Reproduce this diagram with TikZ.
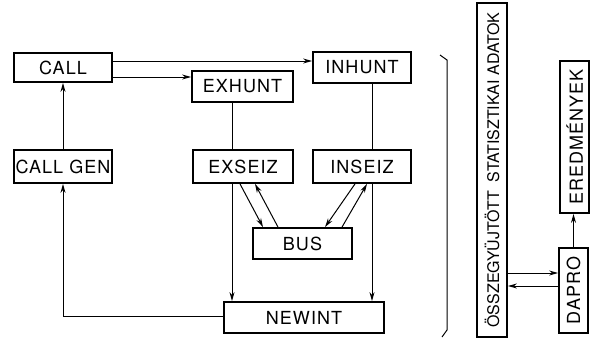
\documentclass[tikz,border=0pt]{standalone}
\usepackage{fontspec}
\setmainfont[LetterSpace=6]{TeX Gyre Heros}
\newfontfamily\statfont{TeX Gyre Heros}
\usepackage{graphicx}
\usetikzlibrary{arrows.meta,positioning,calc}
\tikzset{
  blk/.style={draw,line width=1.8pt,inner sep=0pt,font=\fontsize{18}{20}\selectfont},
  arr/.style={line width=1pt,-{Stealth[length=9pt,width=5pt]}},
  ln/.style={line width=1pt}
}

\begin{document}
\begin{tikzpicture}[x=1pt,y=-1pt]
  \useasboundingbox (0,0) rectangle (604,340);
  % left part: call handling
  \node[blk,minimum width=98pt,minimum height=29pt] (call) at (63,67.5) {CALL};
  \node[blk,minimum width=98pt,minimum height=33pt] (callgen) at (63,166.5) {CALL GEN};
  \node[blk,minimum width=101pt,minimum height=31pt] (exhunt) at (242.5,86.5) {EXHUNT};
  \node[blk,minimum width=98pt,minimum height=31pt] (inhunt) at (362,67.5) {INHUNT};
  \node[blk,minimum width=100pt,minimum height=33pt] (exseiz) at (243,166.5) {EXSEIZ};
  \node[blk,minimum width=98pt,minimum height=33pt] (inseiz) at (362,166.5) {INSEIZ};
  \node[blk,minimum width=99pt,minimum height=31pt] (bus) at (302.5,243.5) {BUS};
  \node[blk,minimum width=160pt,minimum height=31pt] (newint) at (304,317.5) {NEWINT};
  % right part: statistics
  \node[blk,minimum width=30pt,minimum height=334pt] (stat) at (492,170)
     {\rotatebox{90}{\statfont\fontsize{16}{18}\selectfont ÖSSZEGYÜJTÖTT\ \ STATISZTIKAI ADATOK}};
  \node[blk,minimum width=29pt,minimum height=152pt] (ered) at (574.5,137) {\rotatebox{90}{EREDMÉNYEK}};
  \node[blk,minimum width=29pt,minimum height=85pt] (dapro) at (573.5,290.5) {\rotatebox{90}{DAPRO}};

  \draw[arr] ([yshift=6.5pt]call.east) -- ([yshift=6.5pt]inhunt.west);
  \draw[arr] ([yshift=-9.5pt]call.east) -- ([yshift=-9.5pt]call.east -| exhunt.west);
  \draw[ln] ([xshift=-10.5pt]exhunt.south) -- ([xshift=-10.5pt]exhunt.south |- exseiz.north);
  \draw[ln] ([xshift=10pt]inhunt.south) -- ([xshift=10pt]inhunt.south |- inseiz.north);
  \draw[arr] ([xshift=-11pt]exseiz.south) -- ([xshift=-11pt]exseiz.south |- newint.north);
  \draw[arr] ([xshift=10pt]inseiz.south) -- ([xshift=10pt]inseiz.south |- newint.north);
  \draw[arr] ([xshift=-3pt]exseiz.south) -- ([xshift=-39.5pt]bus.north);
  \draw[arr] ([xshift=-24.5pt]bus.north) -- ([xshift=12pt]exseiz.south);
  \draw[arr] ([xshift=-7pt]inseiz.south) -- ([xshift=22.5pt]bus.north);
  \draw[arr] ([xshift=39.5pt]bus.north) -- ([xshift=5pt]inseiz.south);
  \draw[arr] ([yshift=1.5pt]newint.west) -| (callgen.south);
  \draw[arr] (callgen.north) -- (call.south);
  % bracket
  \draw[ln] (440,55) -- (447,60) -- (447,330) -- (442,337);
  \draw[arr] ([yshift=17.5pt]dapro.west -| stat.east) -- ([yshift=17.5pt]dapro.west);
  \draw[arr] ([yshift=4.5pt]dapro.west) -- ([yshift=4.5pt]dapro.west -| stat.east);
  \draw[arr] (dapro.north) -- (dapro.north |- ered.south);
\end{tikzpicture}
\end{document}
